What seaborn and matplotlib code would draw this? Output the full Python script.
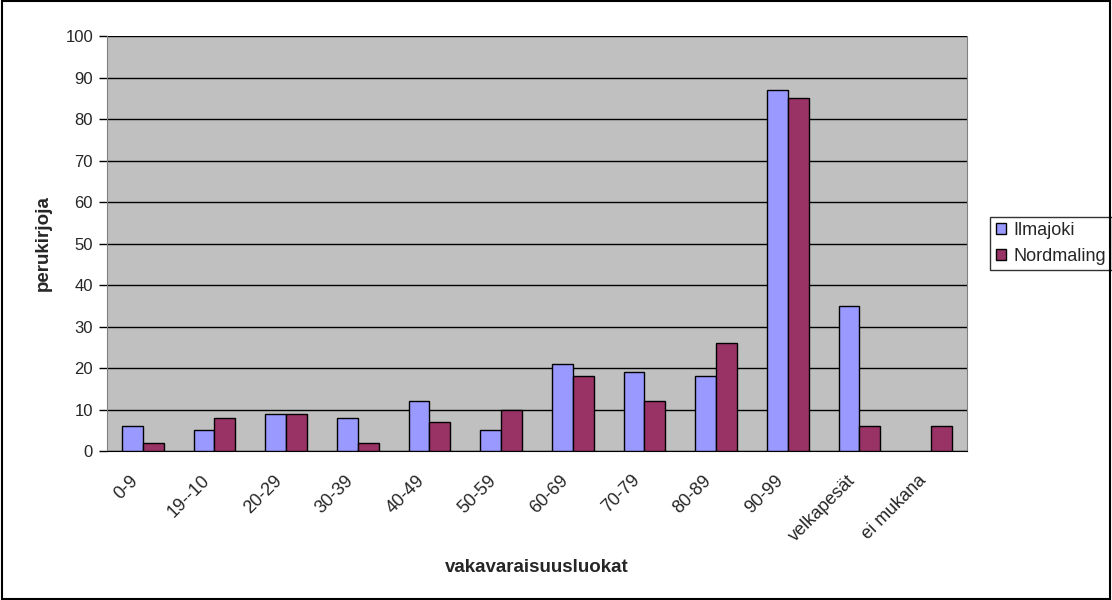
import pandas as pd
import seaborn as sns
import matplotlib.pyplot as plt
from matplotlib.patches import Rectangle
from matplotlib.transforms import ScaledTranslation

# Chart data
categories = ['0-9', '19--10', '20-29', '30-39', '40-49', '50-59', '60-69',
              '70-79', '80-89', '90-99', 'velkapesät', 'ei mukana']
ilmajoki = [6, 5, 9, 8, 12, 5, 21, 19, 18, 87, 35, 0]
nordmaling = [2, 8, 9, 2, 7, 10, 18, 12, 26, 85, 6, 6]
series = ['Ilmajoki', 'Nordmaling']
colors = ['#9999FF', '#993366']

df = pd.DataFrame({
    'luokka': categories * 2,
    'arvo': ilmajoki + nordmaling,
    'sarja': [series[0]] * len(categories) + [series[1]] * len(categories),
})

sns.set_style('white')
plt.rcParams['font.family'] = ['Liberation Sans', 'DejaVu Sans']

fig = plt.figure(figsize=(11.12, 6), dpi=100)
ax = fig.add_axes([0.0962, 0.2483, 0.7734, 0.6917])

sns.barplot(data=df, x='luokka', y='arvo', hue='sarja', order=categories,
            hue_order=series, palette=colors, width=0.58, edgecolor='black',
            linewidth=1, saturation=1, errorbar=None, ax=ax, zorder=3)

# no outline for empty bars
for p in ax.patches:
    if p.get_height() == 0:
        p.set_linewidth(0)

ax.set_facecolor('#C0C0C0')
ax.set_ylim(0, 100)
ax.set_xlim(-0.5, len(categories) - 0.5)
ax.set_yticks(range(0, 101, 10))
ax.yaxis.grid(True, color='black', linewidth=1)
ax.set_axisbelow(True)
ax.spines['top'].set_visible(False)
ax.spines['left'].set_color('#808080')
ax.spines['right'].set_color('#808080')
ax.spines['bottom'].set_color('black')

# category ticks between groups, labels rotated at group centres
ax.set_xticks([i - 0.5 for i in range(len(categories) + 1)], minor=False)
ax.set_xticklabels([])
ax.set_xticks(range(len(categories)), minor=True)
ax.set_xticklabels(categories, minor=True, rotation=45, ha='right',
                   rotation_mode='anchor', fontsize=13)
ax.tick_params(axis='x', which='minor', length=0, pad=15)
ax.tick_params(axis='x', which='major', length=6, width=1, color='black',
               direction='out')
ax.tick_params(axis='y', length=6, width=1, color='black', direction='out',
               labelsize=12, left=True, pad=4)
shift = ScaledTranslation(-0.13, 0, fig.dpi_scale_trans)
for lbl in ax.get_xticklabels(minor=True):
    lbl.set_transform(lbl.get_transform() + shift)

ax.set_xlabel('vakavaraisuusluokat', fontsize=13.5, fontweight='bold', labelpad=10)
ax.set_ylabel('perukirjoja', fontsize=13.5, fontweight='bold', labelpad=10)

leg = ax.legend(loc='center left', bbox_to_anchor=(1.027, 0.5), frameon=True,
                fancybox=False, edgecolor='black', fontsize=13,
                handlelength=0.6, handleheight=0.6, handletextpad=0.4,
                borderpad=0.3, labelspacing=0.5, borderaxespad=0)
leg.get_frame().set_linewidth(1)
for h in leg.legend_handles:
    h.set_edgecolor('black')
    h.set_linewidth(1)

# outer chart border
fig.patches.append(Rectangle((0.002, 0.002), 0.996, 0.996, transform=fig.transFigure,
                             fill=False, edgecolor='black', linewidth=1.5))

fig.savefig('out.png', dpi=100)
